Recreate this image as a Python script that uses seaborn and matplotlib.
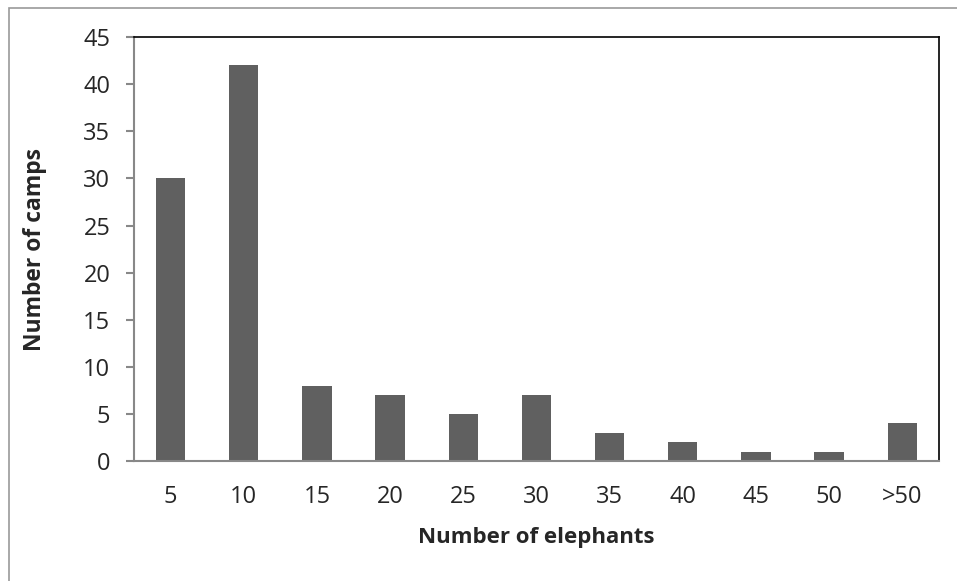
import matplotlib
matplotlib.use("Agg")
import matplotlib.pyplot as plt
import seaborn as sns
import numpy as np
from matplotlib.patches import Rectangle

# data
categories = ["5", "10", "15", "20", "25", "30", "35", "40", "45", "50", ">50"]
camps = [30, 42, 8, 7, 5, 7, 3, 2, 1, 1, 4]

sns.set_style("white")
plt.rcParams["font.family"] = ["Open Sans", "DejaVu Sans"]

fig = plt.figure(figsize=(9.57, 5.81), dpi=100)
ax = fig.add_axes([0.140, 0.2065, 0.841, 0.7295])

sns.barplot(x=categories, y=camps, color="#606060", width=0.4, saturation=1,
            linewidth=0, ax=ax)

ax.set_xlim(-0.5, len(categories) - 0.5)
ax.set_ylim(0, 45)
ax.set_yticks(np.arange(0, 46, 5))

# spines like the excel chart
for s in ["top", "right"]:
    ax.spines[s].set_color("black")
    ax.spines[s].set_linewidth(1.2)
for s in ["left", "bottom"]:
    ax.spines[s].set_color("#888888")
    ax.spines[s].set_linewidth(1.5)

# category boundary ticks
ax.set_xticks(np.arange(-0.5, len(categories), 1), minor=True)
ax.tick_params(axis="x", which="major", length=0, pad=17, labelsize=17)
ax.tick_params(axis="x", which="minor", direction="out", length=6, width=1.5, color="#888888")
ax.tick_params(axis="y", direction="out", length=6, width=1.5, color="#888888",
               labelsize=17, pad=11, left=True)

ax.set_xlabel("Number of elephants", fontsize=16, fontweight="bold", labelpad=13)
ax.set_ylabel("Number of camps", fontsize=16.5, fontweight="bold", labelpad=26)

# outer chart border
fig.patches.append(Rectangle((0.009, -0.01), 1.0, 0.997, transform=fig.transFigure,
                             fill=False, edgecolor="#999999", linewidth=1.2))

fig.savefig("out.png", dpi=100)
